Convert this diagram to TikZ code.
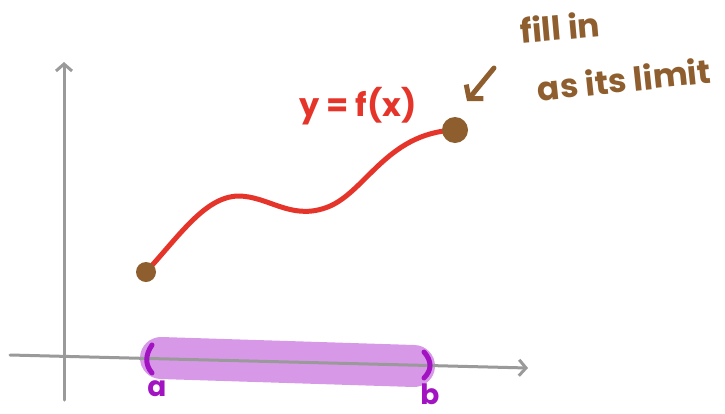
\documentclass[tikz,border=0pt]{standalone}
\usepackage{fontspec}
\setmainfont{Poppins}
\definecolor{cAxis}{HTML}{9A9A9A}
\definecolor{cCurve}{HTML}{E5352B}
\definecolor{cDot}{HTML}{8F5E2F}
\definecolor{cBand}{HTML}{D898E8}
\definecolor{cEnd}{HTML}{A214C2}
\usetikzlibrary{arrows.meta}

\begin{document}
\begin{tikzpicture}[x=1pt,y=-1pt,
      axis/.style={line width=3pt,color=cAxis,line cap=round,
        -{Straight Barb[length=7pt,width=16pt,line width=3pt]}},
      fx/.style={line width=5pt,color=cCurve,line cap=round},
      dot/.style={circle,fill=cDot,inner sep=0pt},
      bracket/.style={line width=5pt,color=cEnd,line cap=round},
      endlbl/.style={font=\fontsize{28}{28}\selectfont\bfseries,color=cEnd,inner sep=0pt},
      note/.style={font=\fontsize{33}{36}\selectfont\bfseries,color=cDot,inner sep=0pt}]
    \useasboundingbox (0,0) rectangle (725,413);
    % axes
    \coordinate (xa) at (10,355);
    \coordinate (xb) at (528,368);
    \coordinate (ya) at (64,400);
    \coordinate (yb) at (64,62);
    % interval (a,b) on the x axis
    \draw[line width=42pt,color=cBand,line cap=round] (161,358) -- (414,366);
    \draw[axis] (xa) -- (xb);
    \draw[axis] (ya) -- (yb);
    \draw[bracket] (152,345) .. controls (145,355) and (145,365) .. (152,373);
    \draw[bracket] (424,352) .. controls (432,361) and (432,370) .. (424,378);
    \node[endlbl] (a) at (157,389) {a};
    \node[endlbl] (b) at (430,394) {b};
    % the function and its two end points
    \coordinate (lo) at (146,272);
    \coordinate (hi) at (455,130);
    \draw[fx] (lo) .. controls (180,235) and (205,197) .. (238,196)
      .. controls (268,196) and (290,220) .. (325,208)
      .. controls (365,195) and (385,133) .. (hi);
    \node[dot,minimum size=20pt] (loDot) at (lo) {};
    \node[dot,minimum size=26pt] (hiDot) at (hi) {};
    \node[font=\fontsize{32}{32}\selectfont\bfseries,color=cCurve] (fname) at (358,106) {y = f(x)};
    % note on the right end point
    \coordinate (tail) at (494,68);
    \coordinate (tip) at (467,101);
    \draw[line width=5pt,color=cDot,line cap=round,
      -{Straight Barb[length=9pt,width=22pt,line width=5pt]}] (tail) -- (tip);
    \node[note,rotate=5] (fill) at (560,27) {fill in};
    \node[note,rotate=6] (limit) at (624,79) {as its limit};
  \end{tikzpicture}
\end{document}
